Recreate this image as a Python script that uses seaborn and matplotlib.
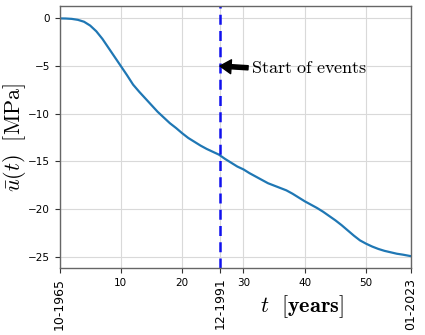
import matplotlib
matplotlib.use("Agg")
import matplotlib.pyplot as plt
import seaborn as sns
import pandas as pd

years = [0, 1, 2, 3, 4, 5, 6, 7, 8, 9, 10, 11, 12, 13, 14, 15, 16, 17, 18, 19,
         20, 21, 22, 23, 24, 25, 26, 27, 28, 29, 30, 31, 32, 33, 34, 35, 36, 37,
         38, 39, 40, 41, 42, 43, 44, 45, 46, 47, 48, 49, 50, 51, 52, 53, 54, 55,
         56, 57.25]
u_mean = [0, -0.01, -0.05, -0.15, -0.35, -0.75, -1.35, -2.15, -3.1, -4.05,
          -5.0, -5.95, -6.95, -7.7, -8.4, -9.1, -9.8, -10.4, -11.0, -11.5,
          -12.05, -12.55, -12.95, -13.35, -13.7, -14.0, -14.3, -14.75, -15.15,
          -15.55, -15.85, -16.25, -16.6, -16.95, -17.3, -17.55, -17.8, -18.05,
          -18.4, -18.8, -19.2, -19.55, -19.9, -20.3, -20.75, -21.2, -21.7,
          -22.25, -22.8, -23.3, -23.65, -23.95, -24.2, -24.4, -24.55, -24.7,
          -24.8, -24.95]
event_start = 26.17
end_year = 57.25
xtick_vals = [0, 10, 20, 26.17, 30, 40, 50, 57.25]
xtick_labels = ["10-1965", "10", "20", "12-1991", "30", "40", "50", "01-2023"]
date_labels = {"10-1965", "12-1991", "01-2023"}
ytick_vals = [0, -5, -10, -15, -20, -25]

plt.rcParams["mathtext.fontset"] = "cm"

df = pd.DataFrame({"t": years, "u": u_mean})

fig = plt.figure(figsize=(4.25, 3.35), dpi=100)
ax = fig.add_axes([0.14, 0.2, 0.826, 0.782])

sns.lineplot(data=df, x="t", y="u", ax=ax, color="#1f77b4", linewidth=1.6)
ax.axvline(event_start, color="#1010ee", linestyle=(0, (4, 2.5)), linewidth=1.8)

ax.annotate(r"$\mathrm{Start\ of\ events}$", xy=(event_start, -5),
            xytext=(31.2, -5.2), va="center", ha="left", fontsize=13,
            arrowprops=dict(facecolor="black", edgecolor="black", width=3,
                            headwidth=10, headlength=8, shrink=0.0))

ax.set_xlim(0, end_year)
ax.set_ylim(-26.2, 1.3)
ax.set_xticks(xtick_vals)
ax.set_xticklabels(xtick_labels)
ax.set_yticks(ytick_vals)
for lab in ax.get_xticklabels():
    if lab.get_text() in date_labels:
        lab.set_rotation(90)
        lab.set_fontsize(9)
    else:
        lab.set_fontsize(7.5)
for lab in ax.get_yticklabels():
    lab.set_fontsize(7.5)

ax.grid(True, color="#d9d9d9", linewidth=0.8)
ax.set_axisbelow(True)
for s in ax.spines.values():
    s.set_color("#666666")
    s.set_linewidth(1.0)
ax.tick_params(colors="#333333", length=3.5, width=0.8, labelcolor="black")

ax.set_xlabel(r"$t\ \ [\mathbf{years}]$", fontsize=16)
ax.xaxis.set_label_coords(0.69, -0.095)
ax.set_ylabel(r"$\bar{u}(t)\ \ [\mathrm{MPa}]$", fontsize=16)
ax.yaxis.set_label_coords(-0.09, 0.5)

fig.savefig("out.png", dpi=100)
